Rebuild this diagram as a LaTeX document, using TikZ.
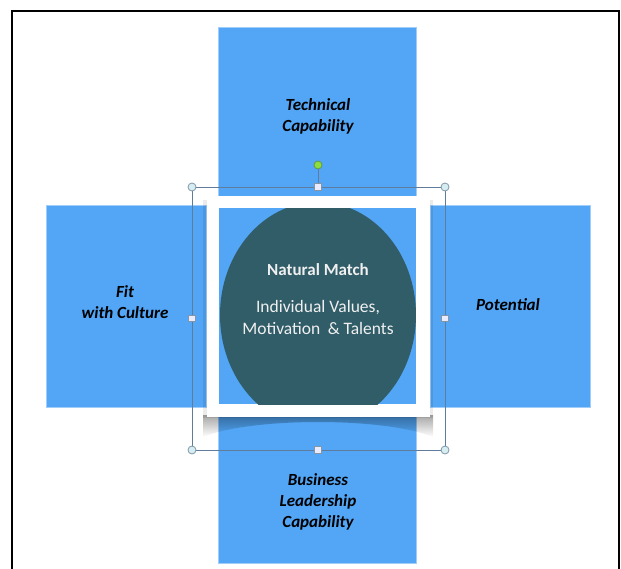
\documentclass[tikz,border=0pt]{standalone}
\usepackage{fontspec}
\setmainfont{Carlito}
\usetikzlibrary{fadings}
\definecolor{boxblue}{RGB}{82,166,245}
\definecolor{boxedge}{RGB}{160,205,250}
\definecolor{circdark}{RGB}{49,93,104}
\definecolor{selline}{RGB}{96,124,156}
\definecolor{handlefill}{RGB}{214,238,242}
\definecolor{handledraw}{RGB}{130,150,168}
\definecolor{rotgreen}{RGB}{140,222,60}
\definecolor{rotdraw}{RGB}{100,150,70}
\tikzset{
  blk/.style={rectangle, fill=boxblue, draw=boxedge, line width=0.8pt, inner sep=0pt},
  lbl/.style={align=center, text=black, font=\fontsize{17}{21}\selectfont\bfseries\itshape, inner sep=0pt},
  ctxt/.style={align=center, text=white!94!black, font=\fontsize{17.5}{22}\selectfont, inner sep=0pt},
  corner/.style={circle, fill=handlefill, draw=handledraw, line width=0.8pt, minimum size=8pt, inner sep=0pt},
  midh/.style={rectangle, fill=white!92!blue, draw=handledraw, line width=0.8pt, minimum size=6.5pt, inner sep=0pt},
  roth/.style={circle, fill=rotgreen, draw=rotdraw, line width=0.8pt, minimum size=8pt, inner sep=0pt},
  sel/.style={draw=selline, line width=0.9pt}
}
\begin{document}
\begin{tikzpicture}[x=1pt,y=-1pt]
\useasboundingbox (0,0) rectangle (621,568);
\clip (0,0) rectangle (621,568);
\fill[white] (0,0) rectangle (621,568);
% outer frame
\draw[black, line width=2pt] (12,11) rectangle (619,590);
% blue boxes
\node[blk, minimum width=198pt, minimum height=178pt] (topbox) at (317,116) {};
\node[blk, minimum width=160pt, minimum height=202pt] (leftbox) at (126,306) {};
\node[blk, minimum width=160pt, minimum height=202pt] (rightbox) at (510,306) {};
\node[blk, minimum width=198pt, minimum height=150pt] (botbox) at (317,488) {};
% shadows
\fill[black, opacity=0.08] (203,200) rectangle (433,418);
\fill[black, opacity=0.35, path fading=south] (203,415) -- (433,415) -- (433,437) .. controls (385,417) and (251,417) .. (203,437) -- cycle;
% white frame and picture
\node[rectangle, fill=white, minimum width=223pt, minimum height=221pt, inner sep=0pt] (frame) at (318,306.5) {};
\node[blk, draw=none, minimum width=197pt, minimum height=196pt] (inner) at (317.5,306) {};
\begin{scope}
\clip (219,208) rectangle (416,404);
\fill[circdark] (318,315) ellipse [x radius=98, y radius=113];
\end{scope}
\coordinate (circ) at (318,315);
% labels
\node[lbl] (t1) at (318,116.5) {Technical\\Capability};
\node[lbl] (t2) at (125,302.5) {Fit\\with Culture};
\node[lbl] (t3) at (508,305) {Potential};
\node[lbl] (t4) at (318,502) {Business\\Leadership\\Capability};
\node[ctxt, font=\fontsize{17}{21}\selectfont\bfseries] (c1) at (318,270) {Natural Match};
\node[ctxt] (c2) at (318,317) {Individual Values,\\Motivation\hspace{0.2em} \& Talents};
% selection handles
\coordinate (s1) at (192,187);
\coordinate (s2) at (445,187);
\coordinate (s3) at (445,450);
\coordinate (s4) at (192,450);
\draw[sel] (s1) -- (s2) -- (s3) -- (s4) -- cycle;
\node[roth] (rot) at (318,165) {};
\node[midh] (mt) at (318,187) {};
\draw[sel] (rot) -- (mt);
\node[midh] (mb) at (318,450) {};
\node[midh] (ml) at (192,318.5) {};
\node[midh] (mr) at (445,318.5) {};
\node[corner] (h1) at (s1) {};
\node[corner] (h2) at (s2) {};
\node[corner] (h3) at (s3) {};
\node[corner] (h4) at (s4) {};
\end{tikzpicture}
\end{document}
